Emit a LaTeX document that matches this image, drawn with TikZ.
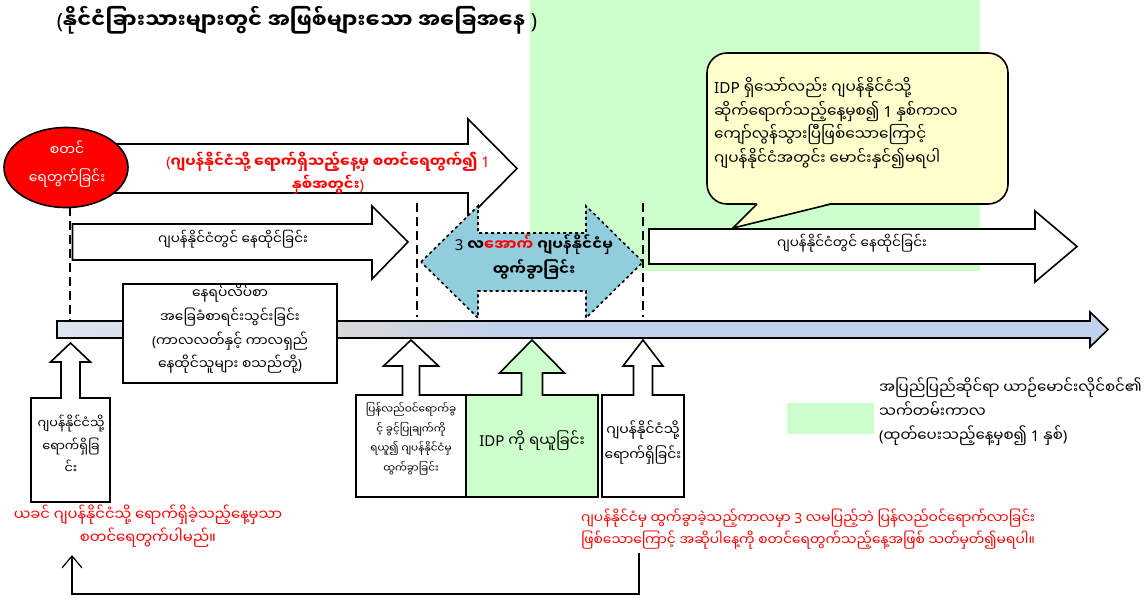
\documentclass[tikz,border=0pt]{standalone}
\usepackage{fontspec}
\setmainfont[Script=Myanmar]{Noto Sans Myanmar UI}
\newfontfamily\latn{Noto Sans}
\usetikzlibrary{arrows.meta}
\definecolor{bggreen}{RGB}{204,255,204}
\definecolor{awayblue}{RGB}{146,205,221}
\definecolor{notefill}{RGB}{255,255,204}
\definecolor{barleft}{RGB}{220,227,242}
\definecolor{barmid}{RGB}{216,216,216}
\definecolor{barright}{RGB}{194,209,236}
\pgfdeclarehorizontalshading{timebar}{100bp}{color(0bp)=(barleft); color(25bp)=(barleft); color(39bp)=(barmid); color(46bp)=(barright); color(100bp)=(barright)}
\begin{document}
\begin{tikzpicture}[x=1pt,y=-1pt,
    outline/.style={draw=black,line width=1.6pt,line join=miter},
    guide/.style={dash pattern=on 9pt off 5pt,line width=2.2pt},
    txt/.style={align=center,inner sep=0pt},
    fs/.style 2 args={font=\fontsize{#1}{#2}\selectfont},
    bfs/.style 2 args={font=\fontsize{#1}{#2}\selectfont\bfseries},
  ]
  \useasboundingbox (0,0) rectangle (1147,599);
  % licence period
  \fill[bggreen] (530,0) rectangle (980,271);

  \node[txt,bfs={21}{24}] (title) at (297,20)
    {{\latn (}နိုင်ငံခြားသားများတွင် အဖြစ်များသော အခြေအနေ {\latn )}};

  % one year arrow
  \draw[outline,fill=white] (115,144) -- (468,144) -- (468,119) -- (517,168.5)
    -- (468,218) -- (468,193) -- (115,193) -- cycle;
  \node[txt,bfs={14.6}{23},text=red] (oneyear) at (328,173.5)
    {{\latn (}ဂျပန်နိုင်ငံသို့ ရောက်ရှိသည့်နေ့မှ စတင်ရေတွက်၍ {\latn 1}\\နှစ်အတွင်း{\latn )}\hspace{68pt}};

  \draw[outline,fill=red] (66,167.5) ellipse [x radius=62, y radius=40];
  \node[txt,fs={14}{28},text=white] (start) at (67,164) {စတင်\\ရေတွက်ခြင်း};

  % before leaving
  \draw[outline,fill=white] (72.5,224) -- (372,224) -- (372,206) -- (408,242)
    -- (372,279) -- (372,260) -- (72.5,260) -- cycle;
  \node[txt,fs={13.6}{23}] (stay1) at (233,239) {ဂျပန်နိုင်ငံတွင် နေထိုင်ခြင်း};

  % away less than 3 months
  \draw[outline,dashed,fill=awayblue] (421,262) -- (478,206) -- (478,233) -- (586,233)
    -- (586,206) -- (643,262) -- (586,318) -- (586,291) -- (478,291) -- (478,318) -- cycle;
  \node[txt,bfs={15}{25}] (away) at (534,257.5)
    {{\latn 3} လ\textcolor{red}{အောက်} ဂျပန်နိုင်ငံမှ\\ထွက်ခွာခြင်း};

  % after return
  \draw[outline,fill=white] (649,229) -- (1035,229) -- (1035,211) -- (1077,246.5)
    -- (1035,282) -- (1035,264) -- (649,264) -- cycle;
  \node[txt,fs={13.6}{23}] (stay2) at (852,243) {ဂျပန်နိုင်ငံတွင် နေထိုင်ခြင်း};

  % note
  \draw[outline,fill=notefill,rounded corners=20pt] (707,53) rectangle (1008,204);
  \fill[notefill] (757,203) -- (733,228) -- (831,203) -- cycle;
  \draw[outline] (757,204) -- (733,228) -- (831,204);
  \node[txt,fs={15.3}{23.5},align=left,anchor=west] (note) at (714,123)
    {{\latn IDP} ရှိသော်လည်း ဂျပန်နိုင်ငံသို့\\ဆိုက်ရောက်သည့်နေ့မှစ၍ {\latn 1} နှစ်ကာလ\\ကျော်လွန်သွားပြီဖြစ်သောကြောင့်\\ဂျပန်နိုင်ငံအတွင်း မောင်းနှင်၍မရပါ};

  \foreach \x/\a/\b in {70/207/320, 417/203/317, 643/203/317} {
    \draw[guide] (\x,\a) -- (\x,\b);
  }

  % time line
  \shadedraw[outline,shading=timebar] (57,321) -- (1090,321) -- (1090,312) -- (1108,329.5)
    -- (1090,347) -- (1090,338) -- (57,338) -- cycle;

  \draw[outline,fill=white] (123,284) rectangle (337,383);
  \node[txt,fs={13.8}{23.7}] (register) at (230,329)
    {နေရပ်လိပ်စာ\\အခြေခံစာရင်းသွင်းခြင်း\\{\latn (}ကာလလတ်နှင့် ကာလရှည်\\နေထိုင်သူများ စသည်တို့{\latn )}};

  % events
  \foreach \l/\r/\t/\b/\c/\s/\h/\y/\p/\col in {
      31/110/398/502/70.5/9.5/20/362/343/white,
      356/466/395/497/411/8.5/27.5/366/340/white,
      466/598/395/497/532/10.5/32.5/373/340/bggreen,
      602/684/395/497/643/9.5/20/366/340/white} {
    \draw[outline,fill=\col] (\l,\b) -- (\l,\t) -- (\c-\s,\t) -- (\c-\s,\y) -- (\c-\h,\y)
      -- (\c,\p) -- (\c+\h,\y) -- (\c+\s,\y) -- (\c+\s,\t) -- (\r,\t) -- (\r,\b) -- cycle;
  }
  \node[txt,fs={12.8}{22.5}] (arrive1) at (71,444.5) {ဂျပန်နိုင်ငံသို့\\ရောက်ရှိခြ\\င်း};
  \node[txt,fs={10.5}{19.5}] (permit) at (411,439) {ပြန်လည်ဝင်ရောက်ခွ\\င့် ခွင့်ပြုချက်ကို\\ရယူ၍ ဂျပန်နိုင်ငံမှ\\ထွက်ခွာခြင်း};
  \node[txt,fs={15}{23}] (idp) at (532,441) {{\latn IDP} ကို ရယူခြင်း};
  \node[txt,fs={14}{25}] (arrive2) at (643,442.5) {ဂျပန်နိုင်ငံသို့\\ရောက်ရှိခြင်း};

  \node[txt,fs={14.8}{23},text=red] (prevnote) at (148,526.5)
    {ယခင် ဂျပန်နိုင်ငံသို့ ရောက်ရှိခဲ့သည့်နေ့မှသာ\\စတင်ရေတွက်ပါမည်။};
  \node[txt,fs={13.8}{22},text=red,align=left,anchor=west] (returnnote) at (581,529)
    {ဂျပန်နိုင်ငံမှ ထွက်ခွာခဲ့သည့်ကာလမှာ {\latn 3} လမပြည့်ဘဲ ပြန်လည်ဝင်ရောက်လာခြင်း\\ဖြစ်သောကြောင့် အဆိုပါနေ့ကို စတင်ရေတွက်သည့်နေ့အဖြစ် သတ်မှတ်၍မရပါ။};

  % legend
  \fill[bggreen] (787,403) rectangle (874,434);
  \node[txt,fs={15}{24},align=left,anchor=west] (legend) at (879,412)
    {အပြည်ပြည်ဆိုင်ရာ ယာဉ်မောင်းလိုင်စင်၏\\သက်တမ်းကာလ\\{\latn (}ထုတ်ပေးသည့်နေ့မှစ၍ {\latn 1} နှစ်{\latn )}};

  \coordinate (fbR) at (639,553);
  \coordinate (fbL) at (72,555);
  \draw[line width=1.2pt,-{Straight Barb[length=12pt,width=20pt]}] (fbR) -- ++(0,41) -| (fbL);
\end{tikzpicture}
\end{document}
